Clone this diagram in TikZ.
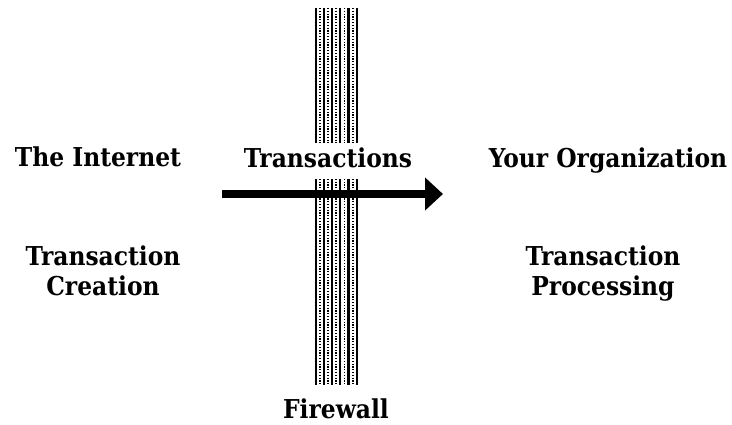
\documentclass[tikz,border=0pt]{standalone}
\usepackage{fontspec}
\setmainfont{DejaVu Serif Condensed}
\usetikzlibrary{arrows.meta}
\tikzset{
	caption/.style={font=\bfseries\fontsize{26}{31}\selectfont, align=center, anchor=base},
	wall/.style={line width=2.2pt},
	wall dots/.style={line width=1.8pt, dash pattern=on 1.2pt off 1.6pt},
}
\begin{document}
\begin{tikzpicture}[x=1pt, y=-1pt]
	\useasboundingbox (0,0) rectangle (732,425);

	% firewall
	\foreach \x in {0,1,2,3,4,5}
		\draw[wall] (315.7 + 8.2*\x, 8) -- (315.7 + 8.2*\x, 385);
	\foreach \x in {0,1,2,3,4}
		\draw[wall dots] (319.8 + 8.2*\x, 8) -- (319.8 + 8.2*\x, 385);

	\node[caption] (internet) at (98, 167) {The Internet};
	\node[caption] (creation) at (103, 296) {Transaction\\Creation};
	\node[caption] (organization) at (608, 168) {Your Organization};
	\node[caption] (processing) at (603, 296) {Transaction\\Processing};
	\node[caption, fill=white, text height=20pt, text depth=6pt, inner ysep=5pt] (transactions) at (328, 168) {Transactions};
	\node[caption, inner ysep=1pt] (firewall) at (336, 418) {Firewall};

	\coordinate (from) at (222, 194);
	\coordinate (to) at (443, 194);
	\draw[line width=8pt, -{Triangle[length=18pt, width=32pt]}] (from) -- (to);
\end{tikzpicture}
\end{document}
